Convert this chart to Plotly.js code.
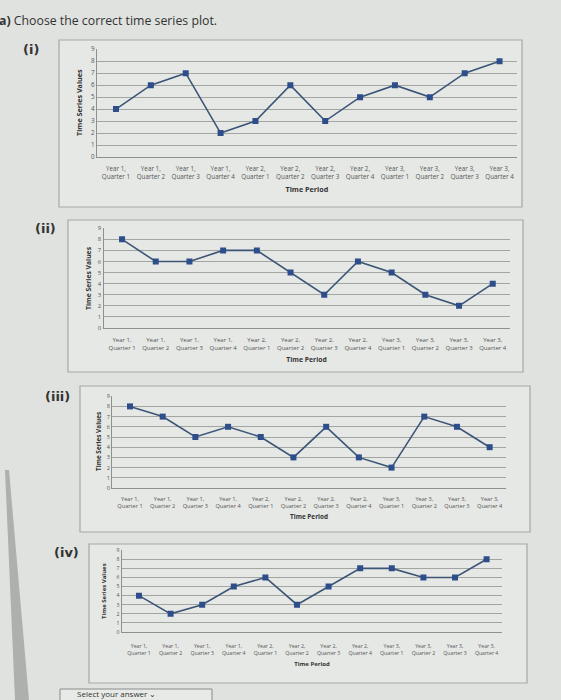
<!DOCTYPE html>
<html>
<head>
<meta charset="utf-8">
<script src="https://cdn.plot.ly/plotly-3.0.1.min.js"></script>
<style>html,body{margin:0;padding:0;background:#e0e2df;}#chart{width:561px;height:700px;}</style>
</head>
<body>
<div id="chart"></div>
<script>
// ---- data ----
const periods = [
  "Year 1,<br>Quarter 1","Year 1,<br>Quarter 2","Year 1,<br>Quarter 3","Year 1,<br>Quarter 4",
  "Year 2,<br>Quarter 1","Year 2,<br>Quarter 2","Year 2,<br>Quarter 3","Year 2,<br>Quarter 4",
  "Year 3,<br>Quarter 1","Year 3,<br>Quarter 2","Year 3,<br>Quarter 3","Year 3,<br>Quarter 4"
];
const plotI   = [4, 6, 7, 2, 3, 6, 3, 5, 6, 5, 7, 8];
const plotII  = [8, 6, 6, 7, 7, 5, 3, 6, 5, 3, 2, 4];
const plotIII = [8, 7, 5, 6, 5, 3, 6, 3, 2, 7, 6, 4];
const plotIV  = [4, 2, 3, 5, 6, 3, 5, 7, 7, 6, 6, 8];
const panelLabels = ["(i)", "(ii)", "(iii)", "(iv)"];
const yTicks = [0,1,2,3,4,5,6,7,8,9];
const heading = "<b>a)</b> Choose the correct time series plot.";
const xTitle = "Time Period";
const yTitle = "Time Series Values";
const answerText = "Select your answer ⌄";

// ---- layout helpers (pixel -> paper) ----
const W = 561, H = 700;
const px = v => v / W;
const py = v => 1 - v / H;

const series = [plotI, plotII, plotIII, plotIV];
// plot-area geometry per panel
const geo = [
  {l: 96.8, r: 517, t: 49, b: 157, fs: 6.3, ts: 7.2, tls: 5, xso: 7, yx: 79, box: [59, 40, 522, 207], lab: [31, 50]},
  {l: 103.5, r: 509.6, t: 228, b: 328, fs: 6, ts: 6.8, tls: 6, xso: 6, yx: 88, box: [68, 220, 523, 372], lab: [45, 228]},
  {l: 112, r: 506, t: 396, b: 488, fs: 5.6, ts: 6.4, tls: 5, xso: 5, yx: 98, box: [80, 386, 530, 532], lab: [57, 396]},
  {l: 121.6, r: 502.4, t: 550, b: 632, fs: 5.2, ts: 6, tls: 9, xso: 5, yx: 104, box: [89, 544, 527, 683], lab: [66, 552]}
];

const data = [];
const layout = {
  width: W, height: H,
  margin: {l: 0, r: 0, t: 0, b: 0},
  paper_bgcolor: "#e0e2df",
  plot_bgcolor: "rgba(0,0,0,0)",
  showlegend: false,
  font: {family: "Open Sans, Liberation Sans, sans-serif", color: "#444"},
  shapes: [],
  annotations: []
};

series.forEach((vals, i) => {
  const g = geo[i];
  const sfx = i === 0 ? "" : String(i + 1);
  data.push({
    type: "scatter", mode: "lines+markers",
    x: periods, y: vals,
    xaxis: "x" + sfx, yaxis: "y" + sfx,
    line: {color: "#3c5576", width: 1.6},
    marker: {symbol: "square", size: 6, color: "#2d4e8a"},
    hoverinfo: "skip"
  });
  layout["xaxis" + sfx] = {
    type: "category",
    domain: [px(g.l), px(g.r)],
    anchor: "y" + sfx,
    range: [-0.55, 11.5],
    showgrid: false, zeroline: false,
    showline: true, linecolor: "#8e908e", linewidth: 1,
    ticks: "", tickangle: 0,
    ticklabelstandoff: g.tls,
    tickfont: {size: g.fs, color: "#555"},
    title: {text: xTitle, font: {size: g.ts, color: "#333", weight: "bold"}, standoff: g.xso},
    fixedrange: true
  };
  layout["yaxis" + sfx] = {
    domain: [py(g.b), py(g.t)],
    anchor: "x" + sfx,
    range: [0, 9.02],
    tickvals: yTicks,
    showgrid: true, gridcolor: "#a3a5a3", gridwidth: 1,
    zeroline: false,
    showline: true, linecolor: "#8e908e", linewidth: 1,
    ticks: "",
    tickfont: {size: g.fs, color: "#555"},
    fixedrange: true
  };
  // y-axis title, placed precisely as rotated text
  layout.annotations.push({
    xref: "paper", yref: "paper", x: px(g.yx), y: py((g.t + g.b) / 2),
    xanchor: "center", yanchor: "middle", showarrow: false, textangle: -90,
    text: "<b>" + yTitle + "</b>", font: {size: g.ts, color: "#333"}
  });
  const b = g.box;
  layout.shapes.push({
    type: "rect", xref: "paper", yref: "paper", layer: "below",
    x0: px(b[0]), x1: px(b[2]), y0: py(b[3]), y1: py(b[1]),
    line: {color: "#a6a8a6", width: 1.2}, fillcolor: "#e6e8e5"
  });
  layout.annotations.push({
    xref: "paper", yref: "paper", x: px(g.lab[0]), y: py(g.lab[1]),
    xanchor: "center", yanchor: "middle", showarrow: false,
    text: "<b>" + panelLabels[i] + "</b>",
    font: {size: 13, color: "#333", family: "DejaVu Sans, sans-serif"}
  });
});

// heading
layout.annotations.push({
  xref: "paper", yref: "paper", x: px(-3), y: py(20),
  xanchor: "left", yanchor: "middle", showarrow: false,
  text: heading, font: {size: 12.3, color: "#333", family: "Open Sans, sans-serif"}
});
// screen-edge strip (photo artefact) and answer box at the bottom
layout.shapes.push({
  type: "path", xref: "paper", yref: "paper", layer: "below",
  path: `M ${px(5)},${py(470)} L ${px(9)},${py(470)} L ${px(29)},${py(700)} L ${px(15)},${py(700)} Z`,
  fillcolor: "#aeb0ae", line: {width: 0}
});
layout.shapes.push({
  type: "rect", xref: "paper", yref: "paper", layer: "below",
  x0: px(60), x1: px(212), y0: py(710), y1: py(689),
  line: {color: "#8a8c8a", width: 1}, fillcolor: "#e8eae7"
});
layout.annotations.push({
  xref: "paper", yref: "paper", x: px(76), y: py(699.5),
  xanchor: "left", yanchor: "bottom", showarrow: false, borderpad: 0,
  text: answerText, font: {size: 8, color: "#333"}
});

Plotly.newPlot("chart", data, layout, {staticPlot: true});
</script>
</body>
</html>
